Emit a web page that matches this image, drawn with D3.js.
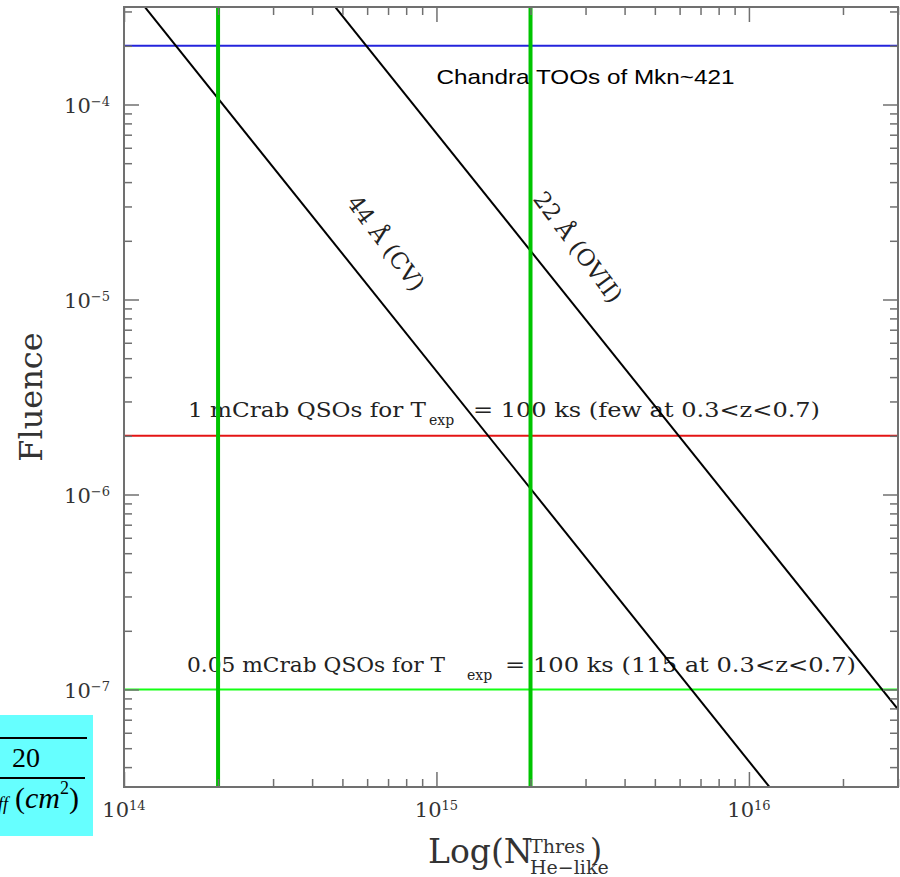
<!DOCTYPE html>
<html>
<head>
<meta charset="utf-8">
<script src="https://cdn.jsdelivr.net/npm/d3@7"></script>
<style>
  html, body { margin: 0; padding: 0; background: #fff; }
  svg { display: block; }
</style>
</head>
<body>
<svg id="chart" width="900" height="877"></svg>
<script>
// valeurs
const xTickExps = [14, 15, 16];
const yTickExps = [-4, -5, -6, -7];
const levelValues = [2e-4, 2e-6, 1e-7];
const levelLabels = [
  ["Chandra TOOs of Mkn~421"],
  ["1 mCrab QSOs for T", "exp", "= 100 ks (few at 0.3<z<0.7)"],
  ["0.05 mCrab QSOs for T", "exp", "= 100 ks (115 at 0.3<z<0.7)"]
];
const thresholdValues = [2e14, 2e15];
const lineNames = ["44 Å (CV)", "22 Å (OVII)"];
const cvN = [1e14, 2e16];
const cvF = [4.3e-4, 1.07e-8];
const oviiN = [3e14, 3e16];
const oviiF = [7.9e-4, 7.9e-8];

const margin = { top: 7, right: 2, bottom: 90, left: 124 };
const W = 900, H = 877;
const width = W - margin.left - margin.right;
const height = H - margin.top - margin.bottom;

const serif = "DejaVu Serif";
const frameColor = "#707070";
const levelColors = ["#2424dc", "#e41414", "#14ff14"];

const svg = d3.select("#chart");

const x = d3.scaleLog().domain([1e14, 3e16]).range([margin.left, margin.left + width]);
const y = d3.scaleLog().domain([Math.pow(10, -7.5), Math.pow(10, -3.5)]).range([margin.top + height, margin.top]);

svg.append("clipPath").attr("id", "plotclip")
  .append("rect")
  .attr("x", margin.left).attr("y", margin.top)
  .attr("width", width).attr("height", height);

// textes des niveaux (dessinés sous les lignes)
const txt = svg.append("g").attr("fill", "#222");
txt.append("text")
  .attr("x", x(1e15)).attr("y", y(levelValues[0]) + 38)
  .attr("font-family", "Liberation Sans, Arial, sans-serif")
  .attr("font-size", 21)
  .attr("fill", "#000")
  .attr("textLength", 298).attr("lengthAdjust", "spacingAndGlyphs")
  .text(levelLabels[0][0]);

const mcrabPos = [
  { x1: 188, w1: 238, xs: 429, x3: 473, w3: 347, dy: -19 },
  { x1: 187, w1: 258, xs: 467, x3: 505, w3: 351, dy: -17.5 }
];
[1, 2].forEach((k, i) => {
  const p = mcrabPos[i];
  const yb = y(levelValues[k]) + p.dy;
  txt.append("text").attr("x", p.x1).attr("y", yb)
    .attr("font-family", serif).attr("font-size", 20)
    .attr("textLength", p.w1).attr("lengthAdjust", "spacingAndGlyphs")
    .text(levelLabels[k][0]);
  txt.append("text").attr("x", p.xs).attr("y", yb + 8)
    .attr("font-family", serif).attr("font-size", 14)
    .text(levelLabels[k][1]);
  txt.append("text").attr("x", p.x3).attr("y", yb)
    .attr("font-family", serif).attr("font-size", 20)
    .attr("textLength", p.w3).attr("lengthAdjust", "spacingAndGlyphs")
    .text(levelLabels[k][2]);
});

// étiquettes des droites inclinées
const angle = Math.atan2(y(cvF[1]) - y(cvF[0]), x(cvN[1]) - x(cvN[0])) * 180 / Math.PI + 2;
const diagLabelPos = [[386, 243], [578, 247]];
lineNames.forEach((name, i) => {
  txt.append("text")
    .attr("transform", `translate(${diagLabelPos[i][0]},${diagLabelPos[i][1]}) rotate(${angle})`)
    .attr("text-anchor", "middle").attr("dy", "0.35em")
    .attr("font-family", serif).attr("font-size", 23)
    .text(name);
});

const plot = svg.append("g").attr("clip-path", "url(#plotclip)");

// lignes horizontales
plot.selectAll(".level")
  .data(levelValues)
  .join("line")
  .attr("class", "level")
  .attr("x1", margin.left).attr("x2", margin.left + width)
  .attr("y1", d => y(d)).attr("y2", d => y(d))
  .attr("stroke", (d, i) => levelColors[i])
  .attr("stroke-width", 2);

// droites F ~ N^-2
const line = d3.line().x(d => x(d[0])).y(d => y(d[1]));
[[cvN, cvF], [oviiN, oviiF]].forEach(([ns, fs]) => {
  plot.append("path")
    .attr("d", line(d3.zip(ns, fs)))
    .attr("fill", "none").attr("stroke", "#000").attr("stroke-width", 2);
});

// seuils verticaux
plot.selectAll(".thres")
  .data(thresholdValues)
  .join("line")
  .attr("class", "thres")
  .attr("x1", d => x(d)).attr("x2", d => x(d))
  .attr("y1", margin.top).attr("y2", margin.top + height)
  .attr("stroke", "#00c400")
  .attr("stroke-width", 4);

// cadre et graduations
const xMajor = xTickExps.map(e => Math.pow(10, e));
const yMajor = yTickExps.map(e => Math.pow(10, e));
const xMinor = x.ticks().filter(t => !xMajor.some(m => Math.abs(t / m - 1) < 1e-6));
const yMinor = y.ticks().filter(t => !yMajor.some(m => Math.abs(t / m - 1) < 1e-6));

function addAxis(axisFn, scale, pos, values, size) {
  const g = svg.append("g")
    .attr("transform", pos)
    .call(axisFn(scale).tickValues(values).tickSize(-size).tickSizeOuter(0).tickFormat(""));
  g.select(".domain").remove();
  g.selectAll("line").attr("stroke", frameColor).attr("stroke-width", 1.5);
}
const bottomPos = `translate(0,${margin.top + height})`;
const topPos = `translate(0,${margin.top})`;
const leftPos = `translate(${margin.left},0)`;
const rightPos = `translate(${margin.left + width},0)`;
addAxis(d3.axisBottom, x, bottomPos, xMajor, 15);
addAxis(d3.axisBottom, x, bottomPos, xMinor, 8);
addAxis(d3.axisTop, x, topPos, xMajor, 15);
addAxis(d3.axisTop, x, topPos, xMinor, 8);
addAxis(d3.axisLeft, y, leftPos, yMajor, 15);
addAxis(d3.axisLeft, y, leftPos, yMinor, 8);
addAxis(d3.axisRight, y, rightPos, yMajor, 15);
addAxis(d3.axisRight, y, rightPos, yMinor, 8);

svg.append("rect")
  .attr("x", margin.left).attr("y", margin.top)
  .attr("width", width).attr("height", height)
  .attr("fill", "none").attr("stroke", frameColor).attr("stroke-width", 2);

// libellés des graduations
const lab = svg.append("g").attr("fill", "#333").attr("font-family", serif);
xTickExps.forEach(e => {
  const t = lab.append("text")
    .attr("x", x(Math.pow(10, e))).attr("y", margin.top + height + 30)
    .attr("text-anchor", "middle").attr("font-size", 21);
  t.append("tspan").text("10");
  t.append("tspan").attr("font-size", 13).attr("dy", -7).text(e);
});
yTickExps.forEach(e => {
  const t = lab.append("text")
    .attr("x", margin.left - 14).attr("y", y(Math.pow(10, e)) + 8)
    .attr("text-anchor", "end").attr("font-size", 21);
  t.append("tspan").text("10");
  t.append("tspan").attr("font-size", 13).attr("dy", -7).text("\u2212" + Math.abs(e));
});

// titres des axes
lab.append("text")
  .attr("transform", `translate(42,${margin.top + height / 2}) rotate(-90)`)
  .attr("text-anchor", "middle").attr("font-size", 32)
  .text("Fluence");
lab.append("text").attr("x", 428).attr("y", 863).attr("font-size", 33).text("Log(N");
lab.append("text").attr("x", 530).attr("y", 853).attr("font-size", 19).text("Thres");
lab.append("text").attr("x", 530).attr("y", 874).attr("font-size", 19).text("He\u2212like");
lab.append("text").attr("x", 590).attr("y", 861).attr("font-size", 31).text(")");

// fragment d'équation en bas à gauche
const eq = svg.append("g");
eq.append("rect").attr("x", 0).attr("y", 715).attr("width", 93).attr("height", 121).attr("fill", "#66ffff");
eq.append("line").attr("x1", 0).attr("x2", 87).attr("y1", 738).attr("y2", 738).attr("stroke", "#000").attr("stroke-width", 2);
eq.append("line").attr("x1", 0).attr("x2", 85).attr("y1", 778).attr("y2", 778).attr("stroke", "#000").attr("stroke-width", 2);
eq.append("text").attr("x", 12).attr("y", 767).attr("font-family", "Liberation Serif").attr("font-size", 28).text("20");
eq.append("text").attr("x", -2).attr("y", 810).attr("font-family", "Liberation Serif").attr("font-style", "italic").attr("font-size", 18).text("ff");
const cm = eq.append("text").attr("x", 15).attr("y", 808).attr("font-family", "Liberation Serif").attr("font-style", "italic").attr("font-size", 30);
cm.append("tspan").attr("font-style", "normal").text("(");
cm.append("tspan").text("cm");
cm.append("tspan").attr("font-size", 18).attr("dy", -14).attr("font-style", "normal").text("2");
cm.append("tspan").attr("font-style", "normal").attr("dy", 14).text(")");
</script>
</body>
</html>
